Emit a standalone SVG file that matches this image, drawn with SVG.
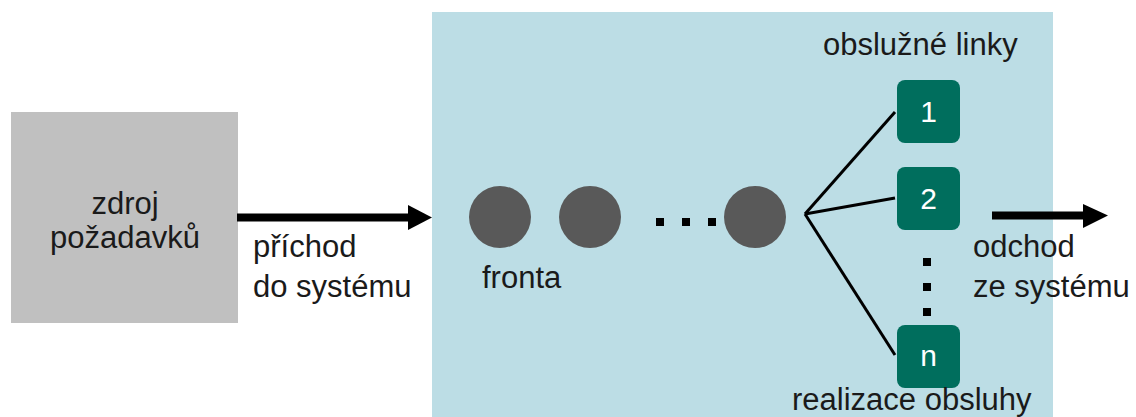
<svg xmlns="http://www.w3.org/2000/svg" width="1136" height="417" viewBox="0 0 1136 417">
<style>
text{font-family:"Liberation Sans",Arial,sans-serif;font-size:31px;fill:#1a1a1a}
.srv{fill:#006e5d}
.srvt{fill:#ffffff;font-size:30px;text-anchor:middle}
.cust{fill:#595959}
.fan{stroke:#000;stroke-width:3;fill:none}
.flow{stroke:#000;stroke-width:8;fill:none}
.dot{fill:#000}
</style>
<rect x="0" y="0" width="1136" height="417" fill="#ffffff"/>
<g id="system">
<rect x="432" y="12" width="621" height="405" fill="#bcdde5"/>
</g>
<g id="source">
<rect x="11" y="112" width="227" height="211" fill="#c0c0c0"/>
<text x="125" y="214" text-anchor="middle">zdroj</text>
<text x="125" y="248" text-anchor="middle">požadavků</text>
</g>
<g id="queue">
<circle class="cust" cx="500" cy="217" r="31"/>
<circle class="cust" cx="590" cy="217" r="31"/>
<circle class="cust" cx="755" cy="217" r="31"/>
<rect class="dot" x="656" y="218" width="8" height="8"/>
<rect class="dot" x="682" y="218" width="8" height="8"/>
<rect class="dot" x="708" y="218" width="8" height="8"/>
<text x="482" y="288">fronta</text>
</g>
<g id="connectors">
<line class="flow" x1="237" y1="217.5" x2="410" y2="217.5"/>
<polygon points="408,205 432,217.5 408,230" fill="#000"/>
<line class="flow" x1="992" y1="215.5" x2="1085" y2="215.5"/>
<polygon points="1083,204 1108,215.5 1083,228" fill="#000"/>
<line class="fan" x1="805" y1="214" x2="895" y2="112"/>
<line class="fan" x1="805" y1="214" x2="895" y2="198"/>
<line class="fan" x1="805" y1="214" x2="895" y2="355"/>
</g>
<g id="server1">
<rect class="srv" x="897" y="80" width="63" height="63" rx="8"/>
<text class="srvt" x="928.5" y="122">1</text>
</g>
<g id="server2">
<rect class="srv" x="897" y="167" width="63" height="63" rx="8"/>
<text class="srvt" x="928.5" y="209">2</text>
</g>
<g id="servern">
<rect class="srv" x="897" y="325" width="63" height="63" rx="8"/>
<text class="srvt" x="928.5" y="366">n</text>
</g>
<g id="vdots">
<rect class="dot" x="923" y="258" width="8" height="8"/>
<rect class="dot" x="923" y="283" width="8" height="8"/>
<rect class="dot" x="923" y="308" width="8" height="8"/>
</g>
<g id="labels">
<text x="823" y="55">obslužné linky</text>
<text x="253" y="257">příchod</text>
<text x="253" y="297">do systému</text>
<text x="973" y="257">odchod</text>
<text x="973" y="297">ze systému</text>
<text x="792" y="410">realizace obsluhy</text>
</g>
</svg>
